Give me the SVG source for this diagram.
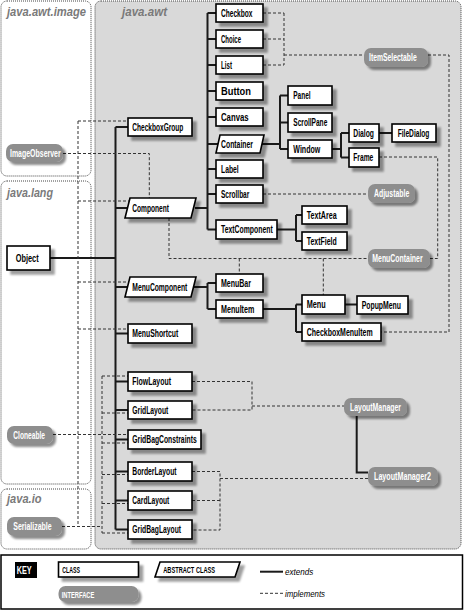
<svg xmlns="http://www.w3.org/2000/svg" width="464" height="611" viewBox="0 0 464 611">
<style>
.pkg{stroke:#444;stroke-width:1;stroke-dasharray:1 1}
.plbl{font-family:"Liberation Sans",Arial,sans-serif;font-weight:bold;font-style:italic;font-size:13.5px;fill:#7a7a7a}
.c rect,.c polygon{fill:#fff;stroke:#000;stroke-width:1.6;filter:url(#ds)}
.i rect{fill:#8e8e8e;stroke:none;filter:url(#ds2)}
.c text,.i text,.k text{font-family:"Liberation Sans",Arial,sans-serif;font-weight:bold;font-size:10px}
.c text{fill:#000}
.i text{fill:#fff}
.ext{fill:none;stroke:#1a1a1a;stroke-width:2}
.imp{fill:none;stroke:#333;stroke-width:1;stroke-dasharray:3 2}
</style>
<defs>
<filter id="ds" x="-20%" y="-30%" width="150%" height="180%">
<feGaussianBlur in="SourceAlpha" stdDeviation="0.8"/>
<feOffset dx="4" dy="4"/>
<feComponentTransfer><feFuncA type="linear" slope="0.38"/></feComponentTransfer>
<feMerge><feMergeNode/><feMergeNode in="SourceGraphic"/></feMerge>
</filter>
<filter id="ds2" x="-20%" y="-30%" width="150%" height="180%">
<feGaussianBlur in="SourceAlpha" stdDeviation="0.8"/>
<feOffset dx="3" dy="3"/>
<feComponentTransfer><feFuncA type="linear" slope="0.45"/></feComponentTransfer>
<feMerge><feMergeNode/><feMergeNode in="SourceGraphic"/></feMerge>
</filter>
</defs>
<rect width="464" height="611" fill="#fff"/>
<g id="packages">
<rect class="pkg" x="1" y="1" width="90" height="175" rx="6" fill="#fff"/>
<rect class="pkg" x="1" y="181" width="90" height="303" rx="6" fill="#fff"/>
<rect class="pkg" x="1" y="489" width="90" height="60" rx="6" fill="#fff"/>
<rect class="pkg" x="95" y="1" width="366" height="548" rx="6" fill="#d9d9d9"/>
<text class="plbl" x="7" y="16" textLength="79" lengthAdjust="spacingAndGlyphs">java.awt.image</text>
<text class="plbl" x="122" y="16" textLength="45" lengthAdjust="spacingAndGlyphs">java.awt</text>
<text class="plbl" x="7" y="197" textLength="46" lengthAdjust="spacingAndGlyphs">java.lang</text>
<text class="plbl" x="7" y="503" textLength="34.5" lengthAdjust="spacingAndGlyphs">java.io</text>
</g>
<g id="connectors">
<path class="ext" d="M50 258H115.5M115.5 127V529.5M115.5 127H128M115.5 208H127.5M115.5 287H127.5M115.5 333.5H128M115.5 381.5H128M115.5 410H128M115.5 439.5H128M115.5 471.5H128M115.5 500.5H128M115.5 529.5H128"/>
<path class="ext" d="M195 208H207.5M207.5 13V229.5M207.5 13H216M207.5 39H216M207.5 65H216M207.5 91H216M207.5 117H216M207.5 144H218M207.5 169H216M207.5 194H216M207.5 229.5H216"/>
<path class="ext" d="M262 144H280M280 95.5V149M280 95.5H288M280 122.5H288M280 149H288"/>
<path class="ext" d="M332 149H341M341 133V157.5M341 133H349M341 157.5H349M379 133H392"/>
<path class="ext" d="M277 229.5H296M296 215V241M296 215H302M296 241H302"/>
<path class="ext" d="M193 287H207.5M207.5 283V309M207.5 283H216M207.5 309H216"/>
<path class="ext" d="M263 309H296M296 304.5V332M296 304.5H302M296 332H302M345 304.5H357"/>
<path class="ext" d="M356.7 416V472.5H368"/>
<path class="imp" d="M263 13H284M263 39H284M263 65H284M284 13V65M284 55H364"/>
<path class="imp" d="M428 55H449V332H381"/>
<path class="imp" d="M379 157H437.7V258.5H430"/>
<path class="imp" d="M263 194H368"/>
<path class="imp" d="M169 218V258.5H368M239.3 258.5V274M323.3 258.5V295"/>
<path class="imp" d="M63 153.5H149.3V198"/>
<path class="imp" d="M78 121V526.5M62 526.5H102M78 121H128M78 201H129.5M78 282H128.7M78 329H128"/>
<path class="imp" d="M102 376V533M102 376H128M102 413H128M102 443H128M102 474.5H128M102 503.5H128M102 533H128"/>
<path class="imp" d="M53 434.5H128"/>
<path class="imp" d="M192 381.5H252V410H192M252 406H344"/>
<path class="imp" d="M192 471.5H220V530H192M192 500.5H220M220 478.5H368"/>
</g>
<g id="Object" class="c"><rect x="7" y="246" width="43" height="24"/><text x="15.7" y="262" style="font-size:11px" textLength="23" lengthAdjust="spacingAndGlyphs">Object</text></g>
<g id="Checkbox" class="c"><rect x="216" y="4" width="47" height="18"/><text x="221" y="16.5" textLength="31.5" lengthAdjust="spacingAndGlyphs">Checkbox</text></g>
<g id="Choice" class="c"><rect x="216" y="30" width="47" height="18"/><text x="221" y="42.5" textLength="20" lengthAdjust="spacingAndGlyphs">Choice</text></g>
<g id="List" class="c"><rect x="216" y="56" width="47" height="18"/><text x="221" y="68.5" textLength="11" lengthAdjust="spacingAndGlyphs">List</text></g>
<g id="Button" class="c"><rect x="216" y="82" width="47" height="18"/><text x="221" y="94.5" textLength="30" lengthAdjust="spacingAndGlyphs">Button</text></g>
<g id="Canvas" class="c"><rect x="216" y="108" width="47" height="18"/><text x="221" y="120.5" textLength="27.7" lengthAdjust="spacingAndGlyphs">Canvas</text></g>
<g id="Container" class="c"><polygon points="220,135 264,135 260,153 216,153"/><text x="221" y="147.5" textLength="32" lengthAdjust="spacingAndGlyphs">Container</text></g>
<g id="Label" class="c"><rect x="216" y="160" width="47" height="18"/><text x="221" y="172.5" textLength="17.7" lengthAdjust="spacingAndGlyphs">Label</text></g>
<g id="Scrollbar" class="c"><rect x="216" y="185" width="47" height="18"/><text x="221" y="197.5" textLength="28.3" lengthAdjust="spacingAndGlyphs">Scrollbar</text></g>
<g id="TextComponent" class="c"><rect x="216" y="220" width="61" height="19"/><text x="221" y="233.2" textLength="51.7" lengthAdjust="spacingAndGlyphs">TextComponent</text></g>
<g id="CheckboxGroup" class="c"><rect x="128" y="118" width="64" height="18"/><text x="132.3" y="130.5" textLength="51" lengthAdjust="spacingAndGlyphs">CheckboxGroup</text></g>
<g id="Panel" class="c"><rect x="288" y="86" width="44" height="19"/><text x="293.3" y="99.2" textLength="17.3" lengthAdjust="spacingAndGlyphs">Panel</text></g>
<g id="ScrollPane" class="c"><rect x="288" y="113" width="44" height="19"/><text x="293.3" y="126.2" textLength="34" lengthAdjust="spacingAndGlyphs">ScrollPane</text></g>
<g id="Window" class="c"><rect x="288" y="140" width="44" height="18"/><text x="293.3" y="152.5" textLength="27" lengthAdjust="spacingAndGlyphs">Window</text></g>
<g id="Dialog" class="c"><rect x="349" y="124" width="30" height="18"/><text x="353.3" y="136.5" textLength="20.7" lengthAdjust="spacingAndGlyphs">Dialog</text></g>
<g id="FileDialog" class="c"><rect x="392" y="124" width="44" height="18"/><text x="397.7" y="136.5" textLength="31.7" lengthAdjust="spacingAndGlyphs">FileDialog</text></g>
<g id="Frame" class="c"><rect x="349" y="148" width="30" height="19"/><text x="353.3" y="161.2" textLength="20" lengthAdjust="spacingAndGlyphs">Frame</text></g>
<g id="TextArea" class="c"><rect x="302" y="206" width="45" height="18"/><text x="306.7" y="218.5" textLength="30" lengthAdjust="spacingAndGlyphs">TextArea</text></g>
<g id="TextField" class="c"><rect x="302" y="232" width="45" height="18"/><text x="306.7" y="244.5" textLength="30" lengthAdjust="spacingAndGlyphs">TextField</text></g>
<g id="Component" class="c"><polygon points="130,198 196,198 191,218 125,218"/><text x="132.3" y="211.5" textLength="36.7" lengthAdjust="spacingAndGlyphs">Component</text></g>
<g id="MenuComponent" class="c"><polygon points="130,277 196,277 191,297 125,297"/><text x="132.3" y="290.5" textLength="55" lengthAdjust="spacingAndGlyphs">MenuComponent</text></g>
<g id="MenuBar" class="c"><rect x="216" y="274" width="47" height="18"/><text x="221" y="286.5" textLength="30" lengthAdjust="spacingAndGlyphs">MenuBar</text></g>
<g id="MenuItem" class="c"><rect x="216" y="300" width="47" height="18"/><text x="221" y="312.5" textLength="33.3" lengthAdjust="spacingAndGlyphs">MenuItem</text></g>
<g id="Menu" class="c"><rect x="302" y="295" width="43" height="19"/><text x="306.7" y="308.2" textLength="19" lengthAdjust="spacingAndGlyphs">Menu</text></g>
<g id="PopupMenu" class="c"><rect x="357" y="296" width="51" height="18"/><text x="361.7" y="308.5" textLength="39.3" lengthAdjust="spacingAndGlyphs">PopupMenu</text></g>
<g id="CheckboxMenuItem" class="c"><rect x="302" y="323" width="79" height="18"/><text x="306.7" y="335.5" textLength="66" lengthAdjust="spacingAndGlyphs">CheckboxMenuItem</text></g>
<g id="MenuShortcut" class="c"><rect x="128" y="324" width="64" height="19"/><text x="132.3" y="337.2" textLength="46" lengthAdjust="spacingAndGlyphs">MenuShortcut</text></g>
<g id="FlowLayout" class="c"><rect x="128" y="372" width="64" height="19"/><text x="132.3" y="385.2" textLength="38.7" lengthAdjust="spacingAndGlyphs">FlowLayout</text></g>
<g id="GridLayout" class="c"><rect x="128" y="401" width="64" height="18"/><text x="132.3" y="413.5" textLength="36" lengthAdjust="spacingAndGlyphs">GridLayout</text></g>
<g id="GridBagConstraints" class="c"><rect x="128" y="430" width="73" height="19"/><text x="132.3" y="443.2" textLength="64.4" lengthAdjust="spacingAndGlyphs">GridBagConstraints</text></g>
<g id="BorderLayout" class="c"><rect x="128" y="462" width="64" height="19"/><text x="132.3" y="475.2" textLength="44.3" lengthAdjust="spacingAndGlyphs">BorderLayout</text></g>
<g id="CardLayout" class="c"><rect x="128" y="491" width="64" height="19"/><text x="132.3" y="504.2" textLength="37" lengthAdjust="spacingAndGlyphs">CardLayout</text></g>
<g id="GridBagLayout" class="c"><rect x="128" y="520" width="64" height="19"/><text x="132.3" y="533.2" textLength="48.7" lengthAdjust="spacingAndGlyphs">GridBagLayout</text></g>
<g id="ItemSelectable" class="i"><rect x="364" y="48" width="64" height="19" rx="7"/><text x="369" y="61" textLength="47.7" lengthAdjust="spacingAndGlyphs">ItemSelectable</text></g>
<g id="ImageObserver" class="i"><rect x="6" y="144" width="57" height="18" rx="7"/><text x="10" y="156.5" textLength="50.7" lengthAdjust="spacingAndGlyphs">ImageObserver</text></g>
<g id="Adjustable" class="i"><rect x="368" y="184" width="47" height="19" rx="7"/><text x="374" y="197.2" textLength="35.3" lengthAdjust="spacingAndGlyphs">Adjustable</text></g>
<g id="MenuContainer" class="i"><rect x="368" y="249" width="62" height="19" rx="7"/><text x="372.3" y="262.2" textLength="50.3" lengthAdjust="spacingAndGlyphs">MenuContainer</text></g>
<g id="Cloneable" class="i"><rect x="7" y="426" width="46" height="18" rx="7"/><text x="13.3" y="438.5" textLength="31.7" lengthAdjust="spacingAndGlyphs">Cloneable</text></g>
<g id="LayoutManager" class="i"><rect x="344" y="398" width="63" height="18" rx="7"/><text x="350" y="410.5" textLength="51" lengthAdjust="spacingAndGlyphs">LayoutManager</text></g>
<g id="LayoutManager2" class="i"><rect x="368" y="467" width="70" height="19" rx="7"/><text x="374" y="480.2" textLength="57" lengthAdjust="spacingAndGlyphs">LayoutManager2</text></g>
<g id="Serializable" class="i"><rect x="7" y="517" width="55" height="19" rx="7"/><text x="13.3" y="530.2" textLength="38.3" lengthAdjust="spacingAndGlyphs">Serializable</text></g>
<g id="key" class="k">
<rect x="1" y="555" width="461.5" height="54" fill="#fff" stroke="#000" stroke-width="1.5"/>
<rect x="15" y="562" width="22" height="16" fill="#000"/>
<text x="16.7" y="573.5" fill="#fff" textLength="15" lengthAdjust="spacingAndGlyphs">KEY</text>
<g class="c"><rect x="58.5" y="562" width="80" height="15"/><text x="62.3" y="573" style="font-size:8.5px" textLength="17.7" lengthAdjust="spacingAndGlyphs">CLASS</text></g>
<g class="c"><polygon points="160,562 240,562 235,577 155,577"/><text x="163.3" y="573" style="font-size:8.5px" textLength="51.7" lengthAdjust="spacingAndGlyphs">ABSTRACT CLASS</text></g>
<g class="i"><rect x="58.5" y="586" width="80" height="16" rx="7"/><text x="61.7" y="597.5" style="font-size:8.5px" textLength="32.7" lengthAdjust="spacingAndGlyphs">INTERFACE</text></g>
<path class="ext" d="M260 571.7H283"/>
<path class="imp" d="M260 593.3H283"/>
<text x="285" y="575" style="font-weight:normal;font-style:italic;font-size:9px" textLength="28.3" lengthAdjust="spacingAndGlyphs">extends</text>
<text x="285" y="597" style="font-weight:normal;font-style:italic;font-size:9px" textLength="40" lengthAdjust="spacingAndGlyphs">implements</text>
</g>
</svg>
